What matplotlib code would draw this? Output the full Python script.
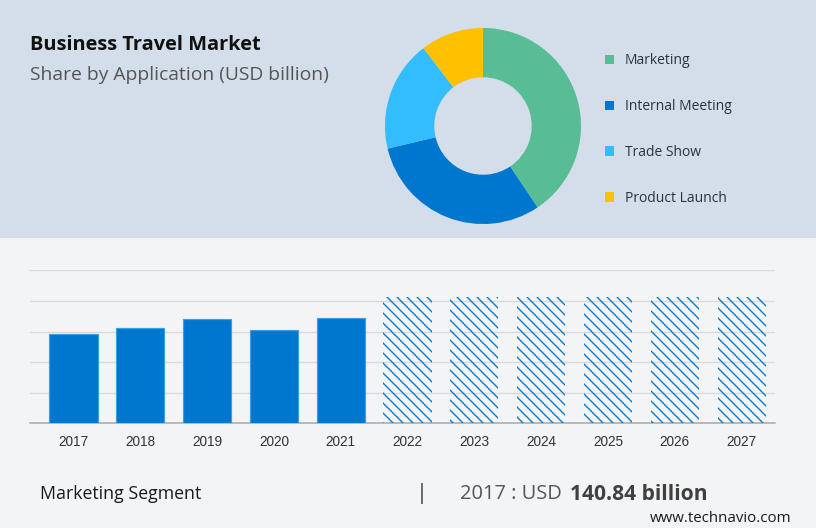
import matplotlib
matplotlib.use('Agg')
import matplotlib.pyplot as plt
from matplotlib.patches import Rectangle

W, H = 816, 528
DPI = 120

years = ['2017', '2018', '2019', '2020', '2021', '2022', '2023', '2024', '2025', '2026', '2027']
actual = [140.84, 150.8, 164.5, 148.2, 166.1]
forecast = [199.8, 199.8, 199.8, 199.8, 199.8, 199.8]
grid_values = [48.4, 96.8, 145.2, 193.6, 242.0]

apps = ['Marketing', 'Internal Meeting', 'Trade Show', 'Product Launch']
shares = [40.6, 30.7, 18.3, 10.4]
app_colors = ['#58BD95', '#0077CF', '#33BDFF', '#FFC000']

BLUE = '#0077CF'


def px(size):
    # font size in pixels to points
    return size * 72 / DPI


def put(x, y, s, **kw):
    kw.setdefault('va', 'center')
    kw.setdefault('family', 'Open Sans')
    return fig.text(x / W, 1 - y / H, s, **kw)


def box(x0, y0, x1, y1):
    return [x0 / W, 1 - y1 / H, (x1 - x0) / W, (y1 - y0) / H]


plt.rcParams['hatch.linewidth'] = 0.8

fig = plt.figure(figsize=(W / DPI, H / DPI), dpi=DPI, facecolor='#F3F4F6')
fig.patches.append(Rectangle((0, 1 - 238 / H), 1, 238 / H, transform=fig.transFigure,
                             facecolor='#D3DEEA', edgecolor='none', zorder=-5))

# donut
ax_pie = fig.add_axes(box(384, 27, 582, 225))
ax_pie.set_aspect('equal')
wedges, _ = ax_pie.pie(shares, colors=app_colors, startangle=90, counterclock=False,
                       radius=1.0, wedgeprops={'width': 0.503})
ax_pie.set_xlim(-1.01, 1.01)
ax_pie.set_ylim(-1.01, 1.01)
fig.legend(wedges, apps, loc='upper left', bbox_to_anchor=(601 / W, 1 - 49 / H),
           frameon=False, prop={'family': 'Open Sans', 'size': px(13.9)},
           labelcolor='#2B3340', handlelength=0.65, handleheight=0.65,
           handletextpad=0.75, labelspacing=2.22, borderaxespad=0, borderpad=0.3)

# bars
ax = fig.add_axes(box(30, 270.3, 775, 423.3))
ax.patch.set_alpha(0)
x = list(range(len(years)))
ax.bar(x[:5], actual, width=0.72, color=BLUE, edgecolor='#3D9FE3', linewidth=0.7, zorder=3)
ax.bar(x[5:], forecast, width=0.72, facecolor='none', edgecolor=BLUE, hatch='\\\\\\\\',
       linewidth=0, zorder=3)
ax.set_xlim(-0.651, 10.5)
ax.set_ylim(0, 242)
ax.set_yticks(grid_values)
ax.set_xticks(x)
ax.set_xticklabels(years, family='Liberation Sans', fontsize=px(13.6), color='#333333')
ax.tick_params(axis='y', length=0, labelleft=False)
ax.tick_params(axis='x', length=0, pad=7)
ax.grid(axis='y', color='#D9D9DE', linewidth=0.8, zorder=0)
ax.set_axisbelow(True)
for side in ['top', 'left', 'right']:
    ax.spines[side].set_visible(False)
ax.spines['bottom'].set_color('#A6A6A6')
ax.spines['bottom'].set_linewidth(0.9)

# titles and footer
put(30, 44.5, 'Business Travel Market', fontsize=px(20), fontweight='bold', color='#111111')
put(30, 74.5, 'Share by Application (USD billion)', fontsize=px(19.2), color='#555555')
put(40, 494, 'Marketing Segment', fontsize=px(17.8), color='#1A1A1A')
put(422, 493, '|', fontsize=px(22), color='#444444', ha='center')
put(460, 494, '2017 : USD', fontsize=px(20), color='#555555')
put(570, 494, '140.84 billion', fontsize=px(21), fontweight='bold', color='#404040')
put(650, 518, 'www.technavio.com', fontsize=px(15), color='#1A1A1A')

fig.savefig('out.png', dpi=DPI, facecolor=fig.get_facecolor())
